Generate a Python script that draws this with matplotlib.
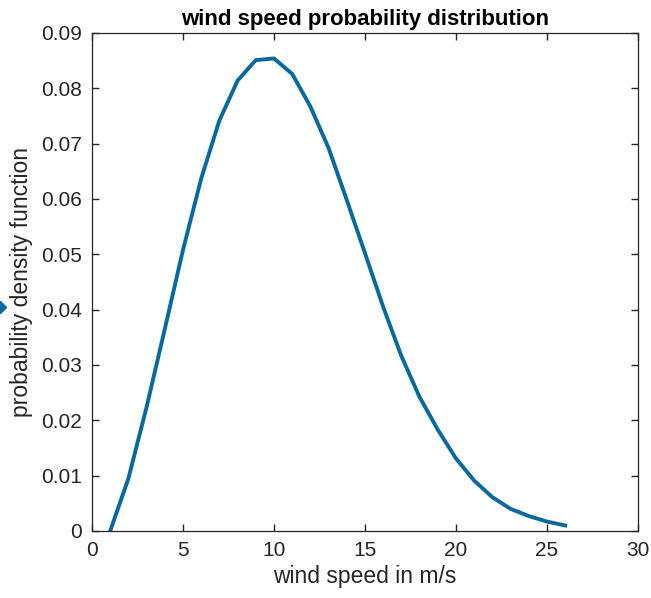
import matplotlib
matplotlib.use("agg")
import matplotlib.pyplot as plt
from matplotlib.lines import Line2D

plt.rcParams.update({
    "font.family": ["Liberation Sans", "DejaVu Sans"],
    "font.size": 15,
    "axes.linewidth": 0.9,
    "xtick.direction": "in",
    "ytick.direction": "in",
    "xtick.top": True,
    "ytick.right": True,
})

# wind speed (m/s) and estimated probability density
speed = [1, 2, 3, 4, 5, 6, 7, 8, 9, 10, 11, 12, 13, 14, 15, 16, 17, 18, 19,
         20, 21, 22, 23, 24, 25, 26]
pdf = [0.0, 0.0095, 0.0224, 0.0365, 0.0508, 0.0637, 0.0742, 0.0814, 0.0851,
       0.0854, 0.0826, 0.0767, 0.0692, 0.0598, 0.0502, 0.0405, 0.0316,
       0.0242, 0.0183, 0.0131, 0.0091, 0.0061, 0.0040, 0.0027, 0.0017,
       0.0010]

LINE = "#0869A0"
INK = "#262626"

fig = plt.figure(figsize=(6.51, 5.98), dpi=100)
ax = fig.add_axes([92 / 651, 1 - 531 / 598, 546 / 651, 498 / 598])

ax.plot(speed, pdf, color=LINE, lw=2.8, solid_joinstyle="miter")

ax.set_xlim(0, 30)
ax.set_ylim(0, 0.09)
ax.set_xticks([0, 5, 10, 15, 20, 25, 30])
ax.set_yticks([0, 0.01, 0.02, 0.03, 0.04, 0.05, 0.06, 0.07, 0.08, 0.09])
ax.set_yticklabels(["0", "0.01", "0.02", "0.03", "0.04", "0.05", "0.06",
                    "0.07", "0.08", "0.09"])
ax.tick_params(length=5, width=1.0, colors=INK, labelsize=15)
ax.tick_params(axis="x", pad=7)
ax.tick_params(axis="y", pad=7)
for sp in ax.spines.values():
    sp.set_color(INK)

ax.set_xlabel("wind speed in m/s", fontsize=16.5, color=INK, labelpad=4)
ax.set_ylabel("probability density function", fontsize=16.5, color=INK,
              labelpad=6)
ax.set_title("wind speed probability distribution", fontsize=16,
             fontweight="bold", color="black", pad=6)

# clipped diamond marker peeking in at the left edge (as in the original)
fig.add_artist(Line2D([0.0], [1 - 307 / 598], transform=fig.transFigure,
                      marker="D", markersize=6, color=LINE, linestyle="None"))

fig.savefig("out.png", dpi=100)
